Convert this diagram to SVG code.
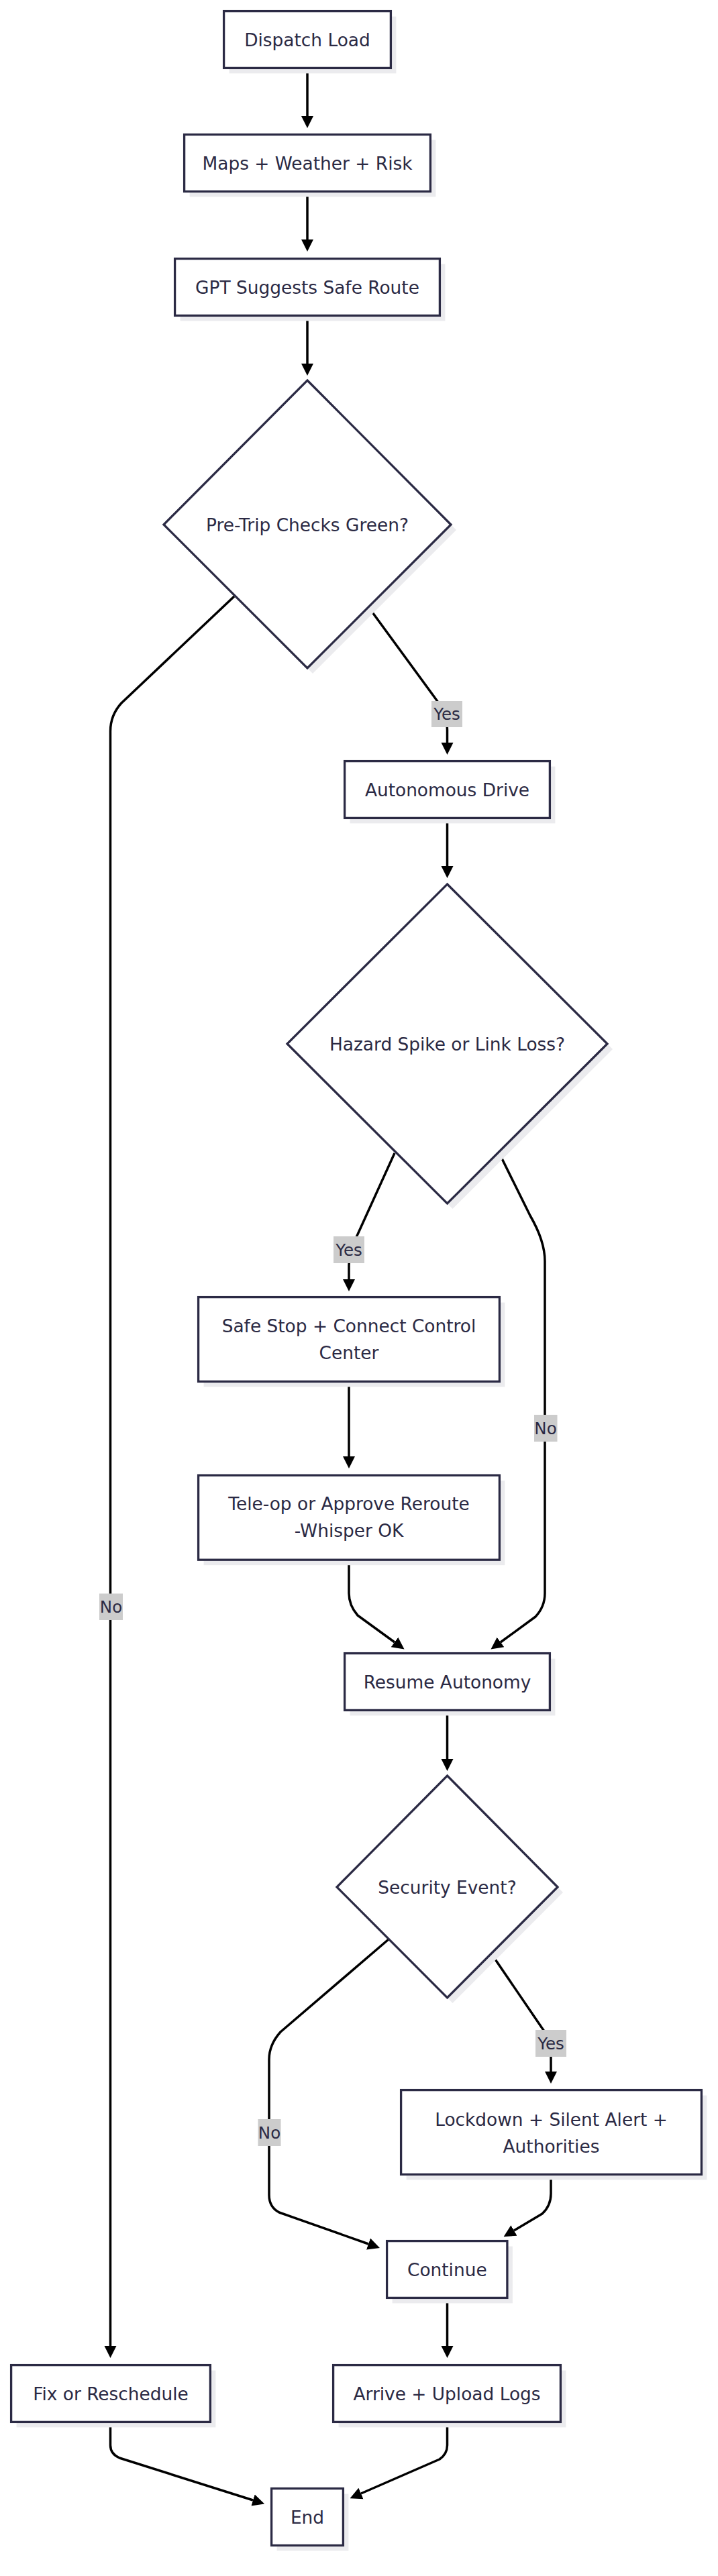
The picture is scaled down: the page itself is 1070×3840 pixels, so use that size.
<svg xmlns="http://www.w3.org/2000/svg" width="1070" height="3840" viewBox="0 0 1070 3840">
<style>
.bg{fill:#ffffff}
.node{fill:#ffffff;stroke:#2b2a44;stroke-width:3.3}
.shadow{fill:#ebebee;stroke:none}
.t{font-family:"DejaVu Sans",Verdana,sans-serif;font-size:26.4px;fill:#2b2a44;text-anchor:middle}
.edge{fill:none;stroke:#000000;stroke-width:3.5;stroke-linejoin:round}
.lbg{fill:#cccccc}
.lt{font-family:"DejaVu Sans",Verdana,sans-serif;font-size:24.5px;fill:#2b2a44;text-anchor:middle}
</style>
<defs>
<marker id="arrow" viewBox="0 0 10 10" refX="0" refY="5" markerUnits="userSpaceOnUse" markerWidth="18" markerHeight="22" orient="auto">
<path d="M0,0 L10,5 L0,10 z" fill="#000000"/>
</marker>
</defs>
<rect class="bg" x="0" y="0" width="1070" height="3840"/>

<g id="connectors">
<path class="edge" d="M458,103 V173" marker-end="url(#arrow)"/>
<path class="edge" d="M458,288 V357" marker-end="url(#arrow)"/>
<path class="edge" d="M458,472 V542" marker-end="url(#arrow)"/>
<path class="edge" d="M349,889 L181,1048 Q164.5,1066 164.5,1090 V3497" marker-end="url(#arrow)"/>
<path class="edge" d="M550,906 L648,1040 Q666.5,1064 666.5,1088 V1107" marker-end="url(#arrow)"/>
<path class="edge" d="M666.5,1221 V1291" marker-end="url(#arrow)"/>
<path class="edge" d="M588,1719 L533,1840 Q520,1864 520,1886 V1907" marker-end="url(#arrow)"/>
<path class="edge" d="M744,1719 L790,1812 Q812,1850 812,1880 V2375 Q812,2395 798,2410 L746,2448" marker-end="url(#arrow)"/>
<path class="edge" d="M520,2061 V2171" marker-end="url(#arrow)"/>
<path class="edge" d="M520,2327 V2375 Q520,2393 533,2408 L588,2448" marker-end="url(#arrow)"/>
<path class="edge" d="M666.5,2551 V2622" marker-end="url(#arrow)"/>
<path class="edge" d="M579,2891 L418,3029 Q401,3048 401,3070 V3272 Q401,3290 416,3298 L549,3345" marker-end="url(#arrow)"/>
<path class="edge" d="M732,2912 L807,3022 Q821,3040 821,3060 V3088" marker-end="url(#arrow)"/>
<path class="edge" d="M821,3243 V3270 Q821,3288 808,3300 L766,3325" marker-end="url(#arrow)"/>
<path class="edge" d="M666.5,3428 V3497" marker-end="url(#arrow)"/>
<path class="edge" d="M164.5,3612 V3645 Q164.5,3658 178,3664 L377,3727" marker-end="url(#arrow)"/>
<path class="edge" d="M666.5,3612 V3645 Q666.5,3658 655,3666 L538,3717" marker-end="url(#arrow)"/>

<g id="label-yes-1"><rect class="lbg" x="643" y="1045" width="46" height="39"/><text class="lt" x="666" y="1073">Yes</text></g>
<g id="label-no-1"><rect class="lbg" x="148" y="2375.5" width="35" height="39.5"/><text class="lt" x="165.5" y="2404">No</text></g>
<g id="label-yes-2"><rect class="lbg" x="497" y="1843" width="46" height="40"/><text class="lt" x="520" y="1872">Yes</text></g>
<g id="label-no-2"><rect class="lbg" x="796" y="2109" width="34.5" height="40"/><text class="lt" x="813" y="2138">No</text></g>
<g id="label-no-3"><rect class="lbg" x="384.5" y="3159" width="34" height="40"/><text class="lt" x="401.5" y="3188">No</text></g>
<g id="label-yes-3"><rect class="lbg" x="798" y="3026" width="46" height="40"/><text class="lt" x="821" y="3055">Yes</text></g>
</g>

<g id="dispatch-load">
<rect class="shadow" x="341.6" y="24.6" width="248.8" height="84.8"/>
<rect class="node" x="333.6" y="16.6" width="248.8" height="84.8"/>
<text class="t" x="458" y="68.6">Dispatch Load</text>
</g>
<g id="maps-weather-risk">
<rect class="shadow" x="282.6" y="208.6" width="366.8" height="84.8"/>
<rect class="node" x="274.6" y="200.6" width="366.8" height="84.8"/>
<text class="t" x="458" y="252.6">Maps + Weather + Risk</text>
</g>
<g id="gpt-route">
<rect class="shadow" x="268.6" y="393.6" width="394.8" height="84.8"/>
<rect class="node" x="260.6" y="385.6" width="394.8" height="84.8"/>
<text class="t" x="458" y="437.6">GPT Suggests Safe Route</text>
</g>
<g id="pretrip-checks">
<polygon class="shadow" points="466,575 680,790 466,1004 252,790"/>
<polygon class="node" points="458,567 672,782 458,996 244,782"/>
<text class="t" x="458" y="791.6">Pre-Trip Checks Green?</text>
</g>
<g id="autonomous-drive">
<rect class="shadow" x="521.6" y="1142.6" width="305.8" height="84.8"/>
<rect class="node" x="513.6" y="1134.6" width="305.8" height="84.8"/>
<text class="t" x="666.5" y="1186.6">Autonomous Drive</text>
</g>
<g id="hazard-check">
<polygon class="shadow" points="674.5,1326 913,1564 674.5,1802 436,1564"/>
<polygon class="node" points="666.5,1318 905,1556 666.5,1794 428,1556"/>
<text class="t" x="666.5" y="1565.6">Hazard Spike or Link Loss?</text>
</g>
<g id="safe-stop">
<rect class="shadow" x="303.6" y="1941.6" width="448.8" height="125.8"/>
<rect class="node" x="295.6" y="1933.6" width="448.8" height="125.8"/>
<text class="t" x="520" y="1985.6">Safe Stop + Connect Control</text>
<text class="t" x="520" y="2025.6">Center</text>
</g>
<g id="tele-op">
<rect class="shadow" x="303.6" y="2207.2" width="448.8" height="126"/>
<rect class="node" x="295.6" y="2199.2" width="448.8" height="126"/>
<text class="t" x="520" y="2250.7">Tele-op or Approve Reroute</text>
<text class="t" x="520" y="2290.7">-Whisper OK</text>
</g>
<g id="resume-autonomy">
<rect class="shadow" x="521.6" y="2472.6" width="305.8" height="84.8"/>
<rect class="node" x="513.6" y="2464.6" width="305.8" height="84.8"/>
<text class="t" x="666.5" y="2516.6">Resume Autonomy</text>
</g>
<g id="security-event">
<polygon class="shadow" points="674.5,2655 839,2821 674.5,2986 510,2821"/>
<polygon class="node" points="666.5,2647 831,2813 666.5,2978 502,2813"/>
<text class="t" x="666.5" y="2822.6">Security Event?</text>
</g>
<g id="lockdown">
<rect class="shadow" x="605.6" y="3123.6" width="447.8" height="125.8"/>
<rect class="node" x="597.6" y="3115.6" width="447.8" height="125.8"/>
<text class="t" x="821.5" y="3168.6">Lockdown + Silent Alert +</text>
<text class="t" x="821.5" y="3208.6">Authorities</text>
</g>
<g id="continue">
<rect class="shadow" x="584.6" y="3348.6" width="179.3" height="84.8"/>
<rect class="node" x="576.6" y="3340.6" width="179.3" height="84.8"/>
<text class="t" x="666.3" y="3392.6">Continue</text>
</g>
<g id="fix-reschedule">
<rect class="shadow" x="24.6" y="3533.6" width="296.8" height="84.8"/>
<rect class="node" x="16.6" y="3525.6" width="296.8" height="84.8"/>
<text class="t" x="165" y="3577.6">Fix or Reschedule</text>
</g>
<g id="arrive-upload">
<rect class="shadow" x="504.6" y="3533.6" width="338.8" height="84.8"/>
<rect class="node" x="496.6" y="3525.6" width="338.8" height="84.8"/>
<text class="t" x="666" y="3577.6">Arrive + Upload Logs</text>
</g>
<g id="end">
<rect class="shadow" x="412.6" y="3717.6" width="106.8" height="84.8"/>
<rect class="node" x="404.6" y="3709.6" width="106.8" height="84.8"/>
<text class="t" x="458" y="3761.6">End</text>
</g>
</svg>
